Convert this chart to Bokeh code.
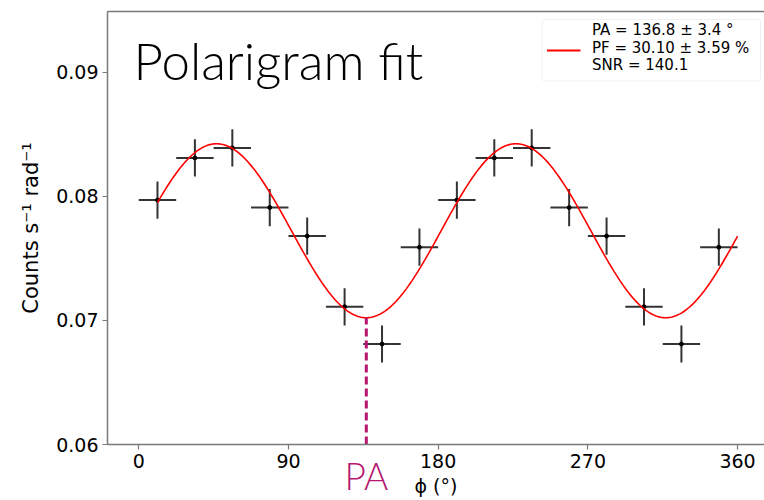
import numpy as np
from bokeh.plotting import figure
from bokeh.models import (FixedTicker, PrintfTickFormatter, CustomJSTickFormatter,
                          LinearAxis, Label, BoxAnnotation)
from bokeh.embed import file_html
from bokeh.resources import INLINE

# Binned polarigram: bin centres (deg), rates (counts s^-1 rad^-1) and 1-sigma errors
phi_centres = [11.25, 33.75, 56.25, 78.75, 101.25, 123.75, 146.25, 168.75,
               191.25, 213.75, 236.25, 258.75, 281.25, 303.75, 326.25, 348.75]
rates = [0.0797, 0.0831, 0.0839, 0.0791, 0.0768, 0.0711, 0.0681, 0.0759,
         0.0797, 0.0831, 0.0839, 0.0791, 0.0768, 0.0711, 0.0681, 0.0759]
rate_errors = [0.0015] * 16
bin_half_width = 11.25

# Modulation-curve fit results
fit_pa = 136.8
fit_pa_err = 3.4
fit_pf = 30.10
fit_pf_err = 3.59
fit_snr = 140.1
fit_mean = 0.07723
fit_amplitude = 0.00701
fit_phi_start = 11.25
fit_phi_end = 360.0

x_ticks = [0, 90, 180, 270, 360]
y_ticks = [0.06, 0.07, 0.08, 0.09]

X0, X1 = -18.8, 376.2
Y0, Y1 = 0.06, 0.0949

# frame geometry in pixels (used to place the legend block and title)
FRAME_LEFT, FRAME_TOP, FRAME_W, FRAME_H = 107, 11, 657, 433


def dx(px):
    return X0 + (px - FRAME_LEFT) * (X1 - X0) / FRAME_W


def dy(py):
    return Y1 - (py - FRAME_TOP) * (Y1 - Y0) / FRAME_H


def model(phi):
    phi = np.asarray(phi, dtype=float)
    return fit_mean + fit_amplitude * np.cos(2.0 * np.radians(phi - (fit_pa + 90.0)))


SPINE = "#7a7a7a"
MAGENTA = "#b5166f"

p = figure(width=764, height=500, x_range=(X0, X1), y_range=(Y0, Y1),
           output_backend="svg", toolbar_location=None,
           min_border_left=FRAME_LEFT, min_border_right=0,
           min_border_top=FRAME_TOP, min_border_bottom=56)
p.outline_line_color = None
p.xgrid.visible = False
p.ygrid.visible = False
p.background_fill_color = "white"
p.border_fill_color = "white"

for ax in (p.xaxis[0], p.yaxis[0]):
    ax.axis_line_color = SPINE
    ax.axis_line_width = 1.5
    ax.major_tick_line_color = SPINE
    ax.major_tick_line_width = 1.2
    ax.major_tick_out = 5
    ax.major_tick_in = 0
    ax.minor_tick_line_color = None
    ax.major_label_text_font = "DejaVu Sans"
    ax.major_label_text_font_size = "19px"
    ax.major_label_text_color = "black"
    ax.axis_label_text_font = "DejaVu Sans"
    ax.axis_label_text_font_style = "normal"
    ax.axis_label_text_color = "black"

p.xaxis.ticker = FixedTicker(ticks=x_ticks)
p.xaxis.major_label_standoff = 4
p.xaxis.axis_label = "ϕ (°)"
p.xaxis.axis_label_text_font_size = "19px"
p.xaxis.axis_label_standoff = 4

p.yaxis.ticker = FixedTicker(ticks=y_ticks)
p.yaxis.formatter = PrintfTickFormatter(format="%.2f")
p.yaxis.major_label_standoff = 4
p.yaxis.axis_label = "Counts s⁻¹ rad⁻¹"
p.yaxis.axis_label_text_font_size = "21px"
p.yaxis.axis_label_standoff = 10

top_spine = LinearAxis(ticker=FixedTicker(ticks=[]), axis_line_color=SPINE,
                       axis_line_width=1.5, major_tick_line_color=None,
                       minor_tick_line_color=None, major_label_text_font_size="0px",
                       major_label_standoff=0, major_tick_out=0, major_tick_in=0)
p.add_layout(top_spine, "above")

# PA tag under the x axis; pulled back up beside the axis title
pa_axis = LinearAxis(ticker=FixedTicker(ticks=[fit_pa]),
                     formatter=CustomJSTickFormatter(code="return 'PA'"),
                     axis_line_color=None, major_tick_line_color=None,
                     minor_tick_line_color=None, major_tick_out=0, major_tick_in=0,
                     major_label_standoff=-47, major_label_text_font="Lato Light",
                     major_label_text_font_size="37px",
                     major_label_text_color=MAGENTA)
p.add_layout(pa_axis, "below")

# error bars
xs = np.array(phi_centres)
ys = np.array(rates)
es = np.array(rate_errors)
p.segment(x0=xs - bin_half_width, y0=ys, x1=xs + bin_half_width, y1=ys,
          line_color="#111111", line_width=2, line_alpha=0.85)
p.segment(x0=xs, y0=ys - es, x1=xs, y1=ys + es,
          line_color="#111111", line_width=2, line_alpha=0.85)
p.scatter(xs, ys, size=4, color="black")

# fitted modulation curve
phi_grid = np.linspace(fit_phi_start, fit_phi_end, 400)
p.line(phi_grid, model(phi_grid), line_color="red", line_width=1.6)

# position angle marker
p.segment(x0=[fit_pa], y0=[Y0], x1=[fit_pa], y1=[float(model(fit_pa))],
          line_color=MAGENTA, line_width=3, line_dash="8 4")

# title inside the frame
p.add_layout(Label(x=dx(133), y=dy(59.5), text="Polarigram fit",
                   text_baseline="alphabetic", text_font="Lato Light",
                   text_font_size="51px", text_color="black"))

# fit-result legend
p.add_layout(BoxAnnotation(left=dx(541.5), right=dx(760), top=dy(19), bottom=dy(80.5),
                           fill_color="white", fill_alpha=0.85, level="underlay",
                           line_color="#cccccc", line_width=1, border_radius=3))
p.segment(x0=[dx(546.5)], y0=[dy(50)], x1=[dx(580)], y1=[dy(50)],
          line_color="red", line_width=2)
legend_lines = [
    f"PA = {fit_pa:.1f} ± {fit_pa_err:.1f} °",
    f"PF = {fit_pf:.2f} ± {fit_pf_err:.2f} %",
    f"SNR = {fit_snr:.1f}",
]
for i, txt in enumerate(legend_lines):
    p.add_layout(Label(x=dx(591.5), y=dy(29.8 + 17.5 * i), text=txt,
                       text_baseline="alphabetic", text_font="DejaVu Sans",
                       text_font_size="15px", text_color="black"))

open("out.html", "w").write(file_html(p, INLINE))
